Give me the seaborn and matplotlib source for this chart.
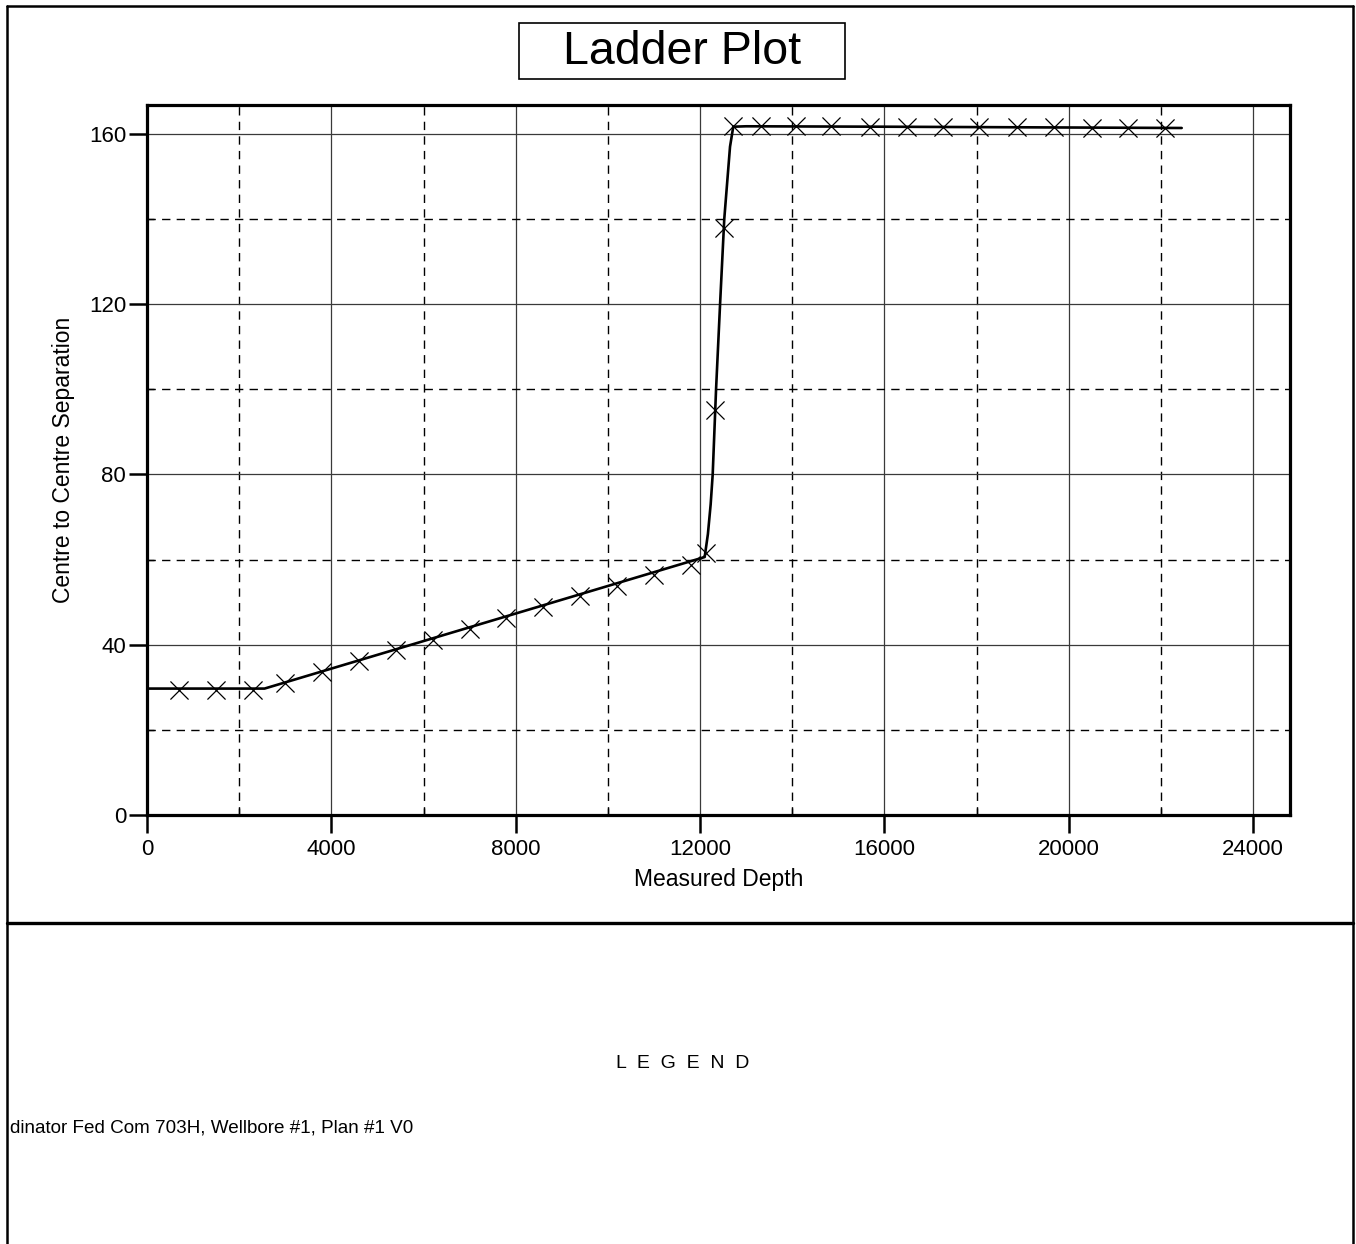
import numpy as np
import pandas as pd
import matplotlib
matplotlib.use("Agg")
import matplotlib.pyplot as plt
from matplotlib.patches import Rectangle
from matplotlib.lines import Line2D
import seaborn as sns

# separation curve
depth_line = [0, 2550, 12100, 12170, 12230, 12274, 12347, 12434, 12525, 12650, 12720, 13000, 16000, 22450]
sep_line = [29.7, 29.7, 60.6, 66, 73, 80, 100, 120, 140, 157, 161.7, 161.8, 161.7, 161.4]

# 'x' markers along the curve
marker_depth = [700, 1500, 2300, 3000, 3800, 4600, 5400, 6200, 7000, 7800, 8600, 9400,
                10200, 11000, 11800, 12130, 12330, 12525, 12720, 13320, 14080, 14840,
                15680, 16500, 17270, 18050, 18870, 19690, 20500, 21290, 22090]
marker_sep = [29.4, 29.4, 29.4, 31.0, 33.5, 36.1, 38.8, 41.2, 43.8, 46.3, 48.8, 51.4,
              53.9, 56.5, 58.8, 61.6, 95.2, 137.8, 161.9, 161.9, 161.8, 161.8,
              161.7, 161.7, 161.7, 161.6, 161.6, 161.6, 161.5, 161.5, 161.5]

x_ticks = [0, 4000, 8000, 12000, 16000, 20000, 24000]
x_minor = [2000, 6000, 10000, 14000, 18000, 22000]
y_ticks = [0, 40, 80, 120, 160]
y_minor = [20, 60, 100, 140]

legend_entry = "dinator Fed Com 703H, Wellbore #1, Plan #1 V0"

sns.set_style("white")
plt.rcParams['font.family'] = ['Liberation Sans', 'DejaVu Sans']
plt.rcParams['text.color'] = 'black'
plt.rcParams['axes.labelcolor'] = 'black'
plt.rcParams['xtick.color'] = 'black'
plt.rcParams['ytick.color'] = 'black'

fig = plt.figure(figsize=(13.56, 12.44), dpi=100)
W, H = 1356, 1244
ax = fig.add_axes([147 / W, 1 - 815 / H, (1290 - 147) / W, (815 - 105) / H])

line_df = pd.DataFrame({"depth": depth_line, "sep": sep_line})
mark_df = pd.DataFrame({"depth": marker_depth, "sep": marker_sep})

sns.lineplot(data=line_df, x="depth", y="sep", ax=ax, color="black", lw=1.9,
             sort=False, estimator=None, zorder=4)
sns.scatterplot(data=mark_df, x="depth", y="sep", ax=ax, marker="x", s=170,
                color="black", linewidth=0.9, zorder=5)

ax.set_xlim(0, 24800)
ax.set_ylim(0, 166.8)
ax.set_xticks(x_ticks)
ax.set_xticks(x_minor, minor=True)
ax.set_yticks(y_ticks)
ax.set_yticks(y_minor, minor=True)

ax.grid(which="major", color="#3a3a3a", lw=0.9, ls="-", zorder=1)
ax.grid(which="minor", color="black", lw=1.0, ls=(0, (6, 4.5)), zorder=1)
ax.set_axisbelow(True)

for sp in ax.spines.values():
    sp.set_linewidth(2.3)
    sp.set_color("black")

ax.tick_params(axis="both", which="both", bottom=True, left=True, top=False, right=False)
ax.tick_params(axis="both", which="major", direction="out", length=13, width=1.8,
               labelsize=16, color="black", labelcolor="black")
ax.tick_params(axis="x", which="major", pad=4)
ax.tick_params(axis="y", which="major", pad=2)
ax.tick_params(axis="both", which="minor", direction="in", length=5, width=1.0)

ax.set_xlabel("Measured Depth", fontsize=16.5, labelpad=6, color="black")
ax.set_ylabel("Centre to Centre Separation", fontsize=16.5, labelpad=10, color="black")

# title box
fig.add_artist(Rectangle((519 / W, 1 - 79 / H), (845 - 519) / W, (79 - 23) / H,
                         transform=fig.transFigure, fill=False, ec="black", lw=1.2))
fig.text(682 / W, 1 - 52 / H, "Ladder Plot", fontsize=33.5, ha="center", va="center",
         color="black")

# outer frame and divider
frame_kw = dict(transform=fig.transFigure, color="black")
fig.add_artist(Line2D([7 / W, 7 / W], [0, 1 - 6 / H], lw=1.8, **frame_kw))
fig.add_artist(Line2D([1353 / W, 1353 / W], [0, 1 - 6 / H], lw=1.8, **frame_kw))
fig.add_artist(Line2D([7 / W, 1353 / W], [1 - 6 / H, 1 - 6 / H], lw=1.8, **frame_kw))
fig.add_artist(Line2D([7 / W, 1353 / W], [1 - 923 / H, 1 - 923 / H], lw=2.4, **frame_kw))

# legend panel
fig.text(683 / W, 1 - 1064 / H, "L  E  G  E  N  D", fontsize=14, ha="center", va="center",
         color="black")
fig.text(10 / W, 1 - 1128 / H, legend_entry, fontsize=13.6, ha="left", va="center",
         color="black")

fig.savefig("out.png", dpi=100)
